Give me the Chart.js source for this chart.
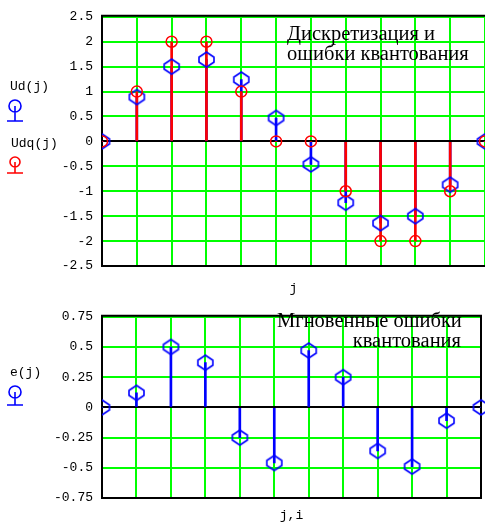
<!DOCTYPE html>
<html>
<head>
<meta charset="utf-8">
<script src="https://cdn.jsdelivr.net/npm/chart.js@4.4.0/dist/chart.umd.min.js"></script>
<style>
  html, body { margin: 0; padding: 0; background: #fff; }
  #wrap { position: relative; width: 485px; height: 526px; overflow: hidden; }
  #topChart { position: absolute; left: 0; top: 0; }
  #bottomChart { position: absolute; left: 0; top: 300px; }
</style>
</head>
<body>
<div id="wrap">
  <canvas id="topChart" width="485" height="300" style="width:485px;height:300px"></canvas>
  <canvas id="bottomChart" width="485" height="226" style="width:485px;height:226px"></canvas>
</div>
<script>
// --- sampled signal, its quantized copy and the error ---
const jLabels = ['0', '1', '2', '3', '4', '5', '6', '7', '8', '9', '10', '11'];
const udValues = [0, 0.89, 1.5, 1.64, 1.24, 0.47, -0.46, -1.23, -1.64, -1.5, -0.87, 0];
const udqValues = [0, 1, 2, 2, 1, 0, 0, -1, -2, -2, -1, 0];
const errValues = [0, 0.12, 0.5, 0.37, -0.25, -0.46, 0.47, 0.25, -0.36, -0.49, -0.11, 0];

const topTicks = [-2.5, -2, -1.5, -1, -0.5, 0, 0.5, 1, 1.5, 2, 2.5];
const bottomTicks = [-0.75, -0.5, -0.25, 0, 0.25, 0.5, 0.75];

const topNote = ['Дискретизация и', 'ошибки квантования'];
const bottomNote = ['Мгновенные ошибки', 'квантования'];

const GREEN = '#00ff00';
const BLUE = '#0000ff';
const RED = '#ff0000';
const MONO = { family: 'Liberation Mono', size: 13 };

function hexMarker(color) {
  const c = document.createElement('canvas');
  c.width = 19; c.height = 19;
  const g = c.getContext('2d');
  g.strokeStyle = color;
  g.lineWidth = 1.6;
  g.beginPath();
  g.moveTo(9.5, 2); g.lineTo(17, 7); g.lineTo(17, 12);
  g.lineTo(9.5, 17); g.lineTo(2, 12); g.lineTo(2, 7);
  g.closePath();
  g.stroke();
  return c;
}
const blueHex = hexMarker(BLUE);

function stemSet(data, color, order) {
  return { type: 'bar', data: data, backgroundColor: color, borderWidth: 0,
           barThickness: 2, grouped: false, order: order };
}

function markerSet(data, color, style, radius, order) {
  return {
    type: 'line', data: data, showLine: false, order: order,
    pointStyle: style, pointRadius: radius, pointHoverRadius: radius,
    pointBorderColor: color, pointBackgroundColor: 'rgba(0,0,0,0)', pointBorderWidth: 1.5,
    clip: { left: 0, top: false, right: false, bottom: false }
  };
}

function framePlugin(cfg) {
  return {
    id: 'frame',
    beforeDatasetsDraw(chart) {
      const { ctx, chartArea: a } = chart;
      ctx.save();
      ctx.strokeStyle = '#000';
      ctx.lineWidth = 2;
      ctx.beginPath();
      ctx.moveTo(a.left - 1, a.top - 1);
      ctx.lineTo(a.right + 1, a.top - 1);
      if (cfg.rightBorder) {
        ctx.moveTo(a.right, a.top - 1);
        ctx.lineTo(a.right, a.bottom);
      }
      ctx.stroke();
      ctx.restore();
    },
    afterDraw(chart) {
      const ctx = chart.ctx;
      ctx.save();
      // note in the plot corner
      ctx.fillStyle = '#000';
      ctx.font = '20.5px "Liberation Serif"';
      ctx.textBaseline = 'alphabetic';
      cfg.note.forEach((line, i) => {
        const n = cfg.notePos[i];
        ctx.textAlign = n.align;
        ctx.fillText(line, n.x, n.y);
      });
      // legend on the left
      cfg.legend.forEach(item => {
        ctx.fillStyle = '#000';
        ctx.font = '13px "Liberation Mono"';
        ctx.textAlign = 'left';
        ctx.textBaseline = 'middle';
        ctx.fillText(item.label, item.tx, item.ty);
        ctx.strokeStyle = item.color;
        ctx.lineWidth = 1.6;
        ctx.beginPath();
        ctx.arc(15, item.cy, item.r, 0, Math.PI * 2);
        ctx.moveTo(15, item.cy);
        ctx.lineTo(15, item.base);
        ctx.moveTo(7, item.base);
        ctx.lineTo(23, item.base);
        ctx.stroke();
      });
      ctx.restore();
    }
  };
}

function buildChart(id, cfg) {
  return new Chart(document.getElementById(id), {
    type: 'bar',
    data: { labels: jLabels, datasets: cfg.datasets },
    options: {
      responsive: false,
      animation: false,
      events: [],
      layout: { autoPadding: false, padding: cfg.padding },
      plugins: { legend: { display: false }, tooltip: { enabled: false } },
      scales: {
        x: {
          type: 'category',
          offset: false,
          grid: { offset: false, color: GREEN, lineWidth: 2, drawTicks: false },
          border: { color: '#000', width: 2 },
          ticks: { display: false },
          title: { display: true, text: cfg.xTitle, font: MONO, color: '#000',
                   padding: { top: 0, bottom: cfg.titlePad } },
          afterFit: s => { s.height = cfg.xHeight; }
        },
        y: {
          type: 'linear',
          min: cfg.ticks[0],
          max: cfg.ticks[cfg.ticks.length - 1],
          afterBuildTicks: s => { s.ticks = cfg.ticks.map(v => ({ value: v })); },
          grid: { color: c => (c.tick && c.tick.value === 0 ? '#000' : GREEN),
                  lineWidth: 2, drawTicks: false },
          border: { color: '#000', width: 2 },
          ticks: { font: MONO, color: '#000', padding: 9, callback: v => String(v) },
          afterFit: s => { s.width = 102; }
        }
      }
    },
    plugins: [framePlugin(cfg)]
  });
}

buildChart('topChart', {
  datasets: [
    markerSet(udqValues, RED, 'circle', 5.5, 0),
    markerSet(udValues, BLUE, blueHex, 8, 1),
    stemSet(udqValues, RED, 2),
    stemSet(udValues, BLUE, 3)
  ],
  ticks: topTicks,
  padding: { top: 16, right: -2, bottom: 0, left: 0 },
  xHeight: 34,
  titlePad: 4,
  xTitle: 'j',
  rightBorder: false,
  note: topNote,
  notePos: [{ x: 287, y: 40, align: 'left' }, { x: 287, y: 60, align: 'left' }],
  legend: [
    { label: 'Ud(j)', tx: 10, ty: 87, color: BLUE, cy: 106, r: 6, base: 121 },
    { label: 'Udq(j)', tx: 11, ty: 144, color: RED, cy: 162, r: 5, base: 173 }
  ]
});

buildChart('bottomChart', {
  datasets: [
    markerSet(errValues, BLUE, blueHex, 8, 0),
    stemSet(errValues, BLUE, 1)
  ],
  ticks: bottomTicks,
  padding: { top: 5, right: 4, bottom: 0, left: 0 },
  xHeight: 28,
  titlePad: 3,
  xTitle: 'j,i',
  rightBorder: true,
  note: bottomNote,
  notePos: [{ x: 277, y: 27, align: 'left' }, { x: 461, y: 47, align: 'right' }],
  legend: [
    { label: 'e(j)', tx: 10, ty: 73, color: BLUE, cy: 92, r: 6, base: 105 }
  ]
});
</script>
</body>
</html>
